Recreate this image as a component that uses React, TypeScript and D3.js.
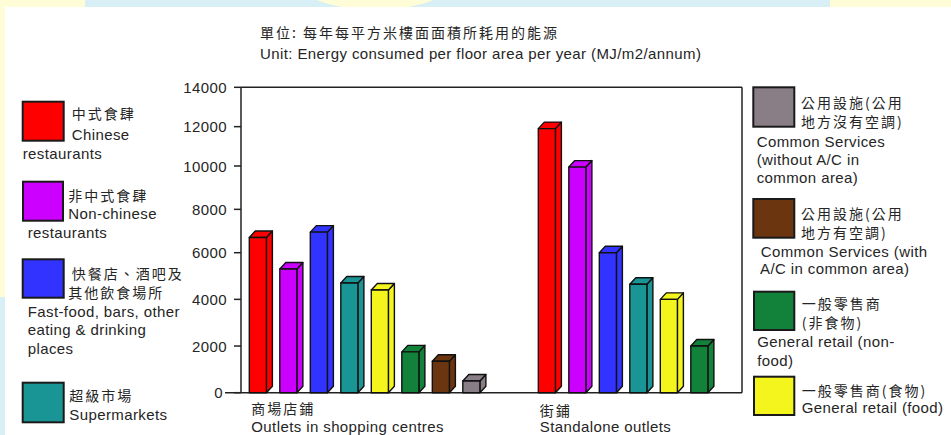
import React from "react";
import * as d3 from "d3";

// ---------- data ----------
const groups = ["shopping", "standalone"];
const groupLabelsZh = ["商場店鋪", "街鋪"];
const groupLabelsEn = ["Outlets in shopping centres", "Standalone outlets"];

const seriesKeys = [
  "chinese",
  "nonChinese",
  "fastFood",
  "supermarkets",
  "retailFood",
  "retailNonFood",
  "commonAC",
  "commonNoAC",
];
const seriesColors = [
  "#ff0000",
  "#cc00ff",
  "#3333ff",
  "#199595",
  "#f5f51e",
  "#12823a",
  "#6b3510",
  "#8a7e86",
];
const shoppingValues = [6700, 5300, 6950, 4700, 4400, 1750, 1350, 500];
const standaloneValues = [11900, 9950, 6000, 4650, 4000, 2000];
const groupValues = [shoppingValues, standaloneValues];

const yTicks = [0, 2000, 4000, 6000, 8000, 10000, 12000, 14000];

const titleZh = "單位: 每年每平方米樓面面積所耗用的能源";
const titleEn = "Unit: Energy consumed per floor area per year (MJ/m2/annum)";

const legendLines: Record<string, string[]> = {
  chinese: ["中式食肆", "Chinese", "restaurants"],
  nonChinese: ["非中式食肆", "Non-chinese", "restaurants"],
  fastFood: ["快餐店、酒吧及", "其他飲食場所", "Fast-food, bars, other", "eating & drinking", "places"],
  supermarkets: ["超級市場", "Supermarkets"],
  commonNoAC: ["公用設施(公用", "地方沒有空調)", "Common Services", "(without A/C in", "common area)"],
  commonAC: ["公用設施(公用", "地方有空調)", "Common Services (with", "A/C in common area)"],
  retailNonFood: ["一般零售商", "(非食物)", "General retail (non-", "food)"],
  retailFood: ["一般零售商(食物)", "General retail (food)"],
};

// ---------- layout ----------
const W = 951;
const H = 435;
const CJK = "'Noto Sans CJK TC', 'Noto Sans CJK SC', sans-serif";
const LAT = "'Liberation Sans', Arial, Helvetica, sans-serif";
const TXT = "#252525";

type LegendLayout = {
  key: string;
  box: [number, number, number, number];
  lines: [number, number][];
};

const legendLayout: LegendLayout[] = [
  { key: "chinese", box: [22.7, 101.7, 41, 39], lines: [[71.7, 113.3], [71.7, 134], [22.7, 152.7]] },
  { key: "nonChinese", box: [23, 181.7, 40, 39], lines: [[68.3, 195], [68.3, 213.3], [27.7, 231.7]] },
  {
    key: "fastFood",
    box: [22.7, 259.3, 41, 38.4],
    lines: [[71.7, 273.3], [68.3, 291.7], [27.7, 311], [27.7, 329.3], [27.7, 347.7]],
  },
  { key: "supermarkets", box: [22.7, 382.7, 41, 39.6], lines: [[69.3, 395], [69.3, 414.3]] },
  {
    key: "commonNoAC",
    box: [753.3, 87.3, 41, 39.4],
    lines: [[801, 102.1], [801, 121], [756.7, 140.7], [756.7, 159], [756.7, 177.3]],
  },
  {
    key: "commonAC",
    box: [753.3, 199, 41, 38.7],
    lines: [[801, 213.3], [801, 232.2], [760.7, 250.7], [760, 268.3]],
  },
  {
    key: "retailNonFood",
    box: [754, 291.7, 40.3, 38.3],
    lines: [[801.7, 303.3], [801.7, 321.7], [757.3, 340.7], [757.3, 360]],
  },
  { key: "retailFood", box: [754, 376.7, 40.3, 38.3], lines: [[801.7, 390], [801.7, 407.3]] },
];

const isCJK = (s: string) => /[\u3000-\u9fff\uff00-\uffef]/.test(s);

const fontProps = (t: string) => {
  const cjk = isCJK(t);
  return {
    fontFamily: cjk ? CJK : LAT,
    fontSize: cjk ? 14 : 15,
    letterSpacing: cjk ? 2 : 0.4,
  };
};

function TextLine({ x, y, t }: { x: number; y: number; t: string }) {
  return (
    <text x={x} y={y} dominantBaseline="central" fill={TXT} {...fontProps(t)}>
      {t}
    </text>
  );
}

function MultiLine({ items }: { items: { x: number; y: number; t: string }[] }) {
  return (
    <text dominantBaseline="central" fill={TXT}>
      {items.map((it, i) => (
        <tspan key={i} x={it.x} y={it.y} dominantBaseline="central" {...fontProps(it.t)}>
          {it.t}
        </tspan>
      ))}
    </text>
  );
}

export default function App() {
  const plotLeft = 241;
  const plotRight = 742;

  const y = d3
    .scaleLinear()
    .domain([0, 6000, 10000, 14000])
    .range([392.7, 252.7, 166, 87.3]);

  const outer = d3.scaleBand<string>().domain(groups).range([242.6, 820.6]);
  const inner = d3
    .scaleBand<string>()
    .domain(seriesKeys)
    .range([0, 244])
    .paddingInner(0.44)
    .paddingOuter(0.22);
  const bw = inner.bandwidth();
  const dx = 6;
  const dy = 6.5;
  const y0 = y(0);

  const bars: any[] = [];
  groups.forEach((g, gi) => {
    groupValues[gi].forEach((v, si) => {
      const key = seriesKeys[si];
      const x = (outer(g) as number) + (inner(key) as number);
      const yv = y(v);
      bars.push({ key: `${g}-${key}`, x, yv, color: seriesColors[si] });
    });
  });

  return (
    <svg
      width={W}
      height={H}
      style={{ position: "absolute", left: 0, top: 0, display: "block" }}
    >
      {/* decorative background */}
      <rect x={0} y={0} width={W} height={H} fill="#d8eff5" />
      <rect x={0} y={0} width={85} height={8} fill="#fffcd8" />
      <rect x={0} y={0} width={5} height={297} fill="#fffcd8" />
      <ellipse cx={375} cy={-30} rx={88} ry={40} fill="#fffcd8" />
      <rect x={830} y={0} width={121} height={8} fill="#fffcd8" />
      <rect x={5} y={7} width={W - 5} height={H - 7} fill="#ffffff" />

      {/* title */}
      <TextLine x={260} y={32} t={titleZh} />
      <TextLine x={260} y={53} t={titleEn} />

      {/* frame */}
      <g stroke="#222" strokeWidth={1.5} fill="none">
        <line x1={plotLeft} y1={y(14000)} x2={plotLeft} y2={y0} />
        <line x1={plotLeft} y1={y(14000)} x2={plotRight} y2={y(14000)} />
        <line x1={plotRight} y1={y(14000)} x2={plotRight} y2={y0} />
        <line x1={225} y1={y0} x2={plotRight} y2={y0} />
        {yTicks.map((t) => (
          <line key={t} x1={plotLeft - 7} y1={y(t)} x2={plotLeft} y2={y(t)} />
        ))}
      </g>
      {yTicks.map((t) => (
        <text
          key={t}
          x={t === 0 ? 223 : 227}
          y={y(t)}
          textAnchor="end"
          dominantBaseline="central"
          fontFamily={LAT}
          fontSize={15}
          letterSpacing={0.4}
          fill={TXT}
        >
          {t}
        </text>
      ))}

      {/* bars */}
      <g stroke="#111" strokeWidth={1.4} strokeLinejoin="round">
        {bars.map((b) => (
          <g key={b.key}>
            <polygon
              points={`${b.x + bw},${b.yv} ${b.x + bw + dx},${b.yv - dy} ${b.x + bw + dx},${y0 - dy} ${b.x + bw},${y0}`}
              fill={b.color}
            />
            <polygon
              points={`${b.x},${b.yv} ${b.x + dx},${b.yv - dy} ${b.x + bw + dx},${b.yv - dy} ${b.x + bw},${b.yv}`}
              fill={b.color}
            />
            <rect x={b.x} y={b.yv} width={bw} height={y0 - b.yv} fill={b.color} />
          </g>
        ))}
      </g>

      {/* group labels */}
      {groups.map((g, gi) => {
        const x = (outer(g) as number) + (inner(seriesKeys[0]) as number) + (gi === 0 ? 2 : 1.5);
        return (
          <g key={g}>
            <TextLine x={x} y={gi === 0 ? 408 : 409.5} t={groupLabelsZh[gi]} />
            <TextLine x={x} y={gi === 0 ? 426.7 : 426.7} t={groupLabelsEn[gi]} />
          </g>
        );
      })}

      {/* legends */}
      {legendLayout.map((l) => {
        const si = seriesKeys.indexOf(l.key);
        const [bx, by, bwid, bh] = l.box;
        return (
          <g key={l.key}>
            <rect
              x={bx}
              y={by}
              width={bwid}
              height={bh}
              fill={seriesColors[si]}
              stroke="#1a1a1a"
              strokeWidth={2}
            />
            <MultiLine
              items={legendLines[l.key].map((t, i) => ({
                x: l.lines[i][0],
                y: l.lines[i][1],
                t,
              }))}
            />
          </g>
        );
      })}
    </svg>
  );
}
